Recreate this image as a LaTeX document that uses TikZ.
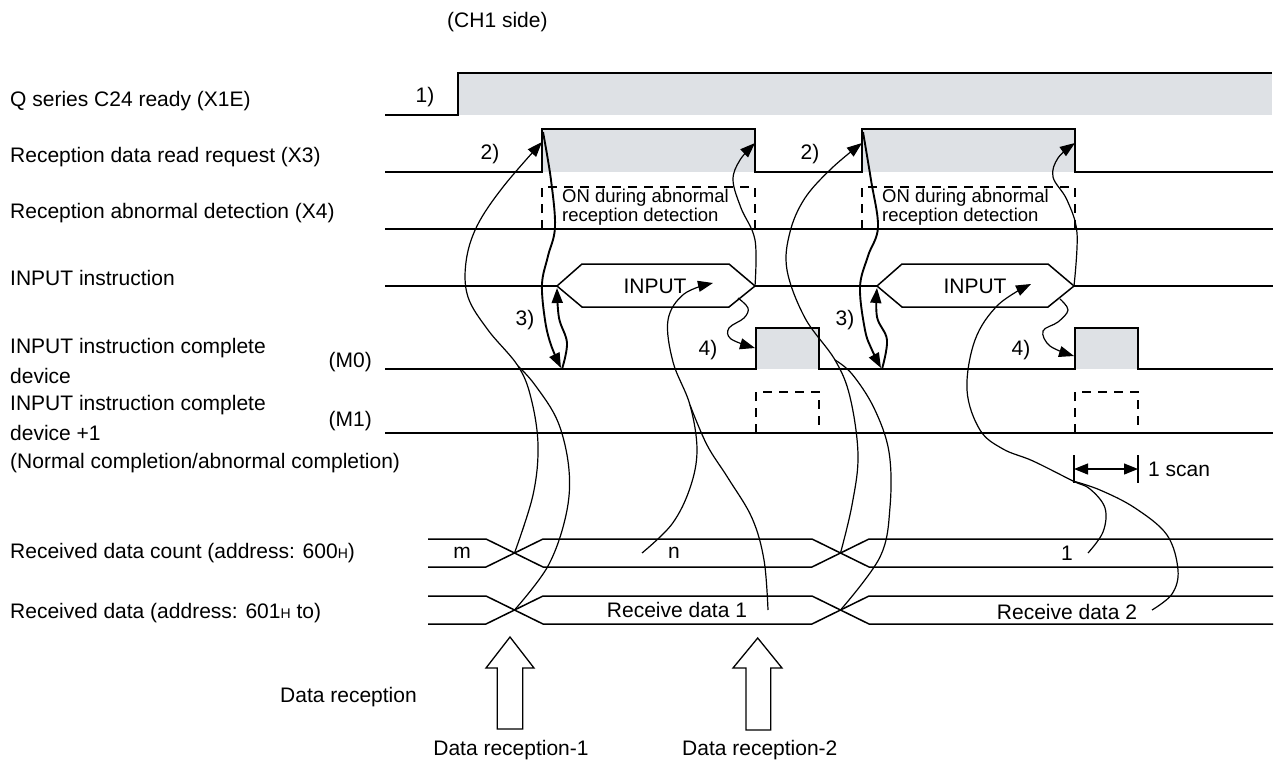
\documentclass[tikz,border=0pt]{standalone}
\usepackage{fontspec}
\setmainfont{Liberation Sans}
\usetikzlibrary{arrows.meta}
\definecolor{sgray}{HTML}{DEE1E5}
\newcommand{\smH}{{\fontsize{14}{14}\selectfont H}}
\begin{document}
\begin{tikzpicture}[x=1pt,y=-1pt,
  sig/.style={line width=1.5pt, line join=miter},
  lbl/.style={anchor=west, inner sep=0pt, font=\fontsize{21}{24}\selectfont},
  txt/.style={inner sep=0pt, font=\fontsize{21}{24}\selectfont},
  crv/.style={line width=1.2pt},
  thk/.style={line width=1.9pt},
  tip/.style={-{Triangle[length=15pt,width=11pt]}},
  dbox/.style={line width=1.3pt, dash pattern=on 9pt off 7pt},
  hollow/.style={line width=1.3pt, fill=white}]
\useasboundingbox (0,0) rectangle (1275,766);

% ---------- left labels ----------
\node[lbl] (ch1) at (447,22) {(CH1 side)};
\node[lbl] (l1) at (10,101) {Q series C24 ready (X1E)};
\node[lbl] (l2) at (10,157) {Reception data read request (X3)};
\node[lbl] (l3) at (10,213) {Reception abnormal detection (X4)};
\node[lbl] (l4) at (10,278) {INPUT instruction};
\node[lbl] (l5a) at (10,348) {INPUT instruction complete};
\node[lbl] (l5b) at (10,376) {device};
\node[txt, anchor=east] (m0) at (372,362) {(M0)};
\node[lbl] (l6a) at (10,405) {INPUT instruction complete};
\node[lbl] (l6b) at (10,433) {device +1};
\node[txt, anchor=east] (m1) at (372,421) {(M1)};
\node[lbl] (l6c) at (10,463) {(Normal completion/abnormal completion)};
\node[lbl] (l7) at (10,553) {Received data count (address: 600\smH)};
\node[lbl] (l8) at (10,613) {Received data (address: 601\smH{} to)};
\node[lbl] (l9) at (280,697) {Data reception};
\node[txt] (dr1) at (511,750) {Data reception-1};
\node[lbl] (dr2) at (682,750) {Data reception-2};

% ---------- X1E ----------
\fill[sgray] (458,73) rectangle (1272,115);
\draw[sig] (385,115) -- (458,115) -- (458,73) -- (1272,73);
\node[txt] (n1) at (425,97) {1)};

% ---------- X3 ----------
\fill[sgray] (542,129) rectangle (755,172);
\fill[sgray] (862,129) rectangle (1075,172);
\draw[sig] (385,172) -- (542,172) -- (542,129) -- (755,129) -- (755,172)
  -- (862,172) -- (862,129) -- (1075,129) -- (1075,172) -- (1273,172);
\node[txt] (n2a) at (490,154) {2)};
\node[txt] (n2b) at (810,154) {2)};

% ---------- X4 ----------
\draw[sig] (385,229) -- (1273,229);
\draw[dbox] (542,229) -- (542,187) -- (755,187) -- (755,229);
\draw[dbox] (862,229) -- (862,187) -- (1075,187) -- (1075,229);
\node[anchor=west, inner sep=0pt, align=left, font=\fontsize{18.5}{19.5}\selectfont]
  (on1) at (562,207) {ON during abnormal\\reception detection};
\node[anchor=west, inner sep=0pt, align=left, font=\fontsize{18.5}{19.5}\selectfont]
  (on2) at (882,207) {ON during abnormal\\reception detection};

% ---------- INPUT instruction ----------
\coordinate (h1l) at (557,286);
\coordinate (h1r) at (755,286);
\coordinate (h2l) at (877,286);
\coordinate (h2r) at (1074,286);
\draw[sig] (385,286) -- (h1l);
\draw[sig] (h1l) -- (582,264) -- (729,264) -- (h1r) -- (729,307) -- (582,307) -- cycle;
\draw[sig] (h1r) -- (h2l);
\draw[sig] (h2l) -- (902,264) -- (1048,264) -- (h2r) -- (1048,307) -- (902,307) -- cycle;
\draw[sig] (h2r) -- (1273,286);
\node[txt] (in1) at (655,286) {INPUT};
\node[txt] (in2) at (975,286) {INPUT};

% ---------- M0 ----------
\fill[sgray] (756,328) rectangle (819,369);
\fill[sgray] (1075,328) rectangle (1138,369);
\draw[sig] (385,369) -- (756,369) -- (756,328) -- (819,328) -- (819,369)
  -- (1075,369) -- (1075,328) -- (1138,328) -- (1138,369) -- (1273,369);
\node[txt] (n3a) at (525,320) {3)};
\node[txt] (n3b) at (845,320) {3)};
\node[txt] (n4a) at (708,350) {4)};
\node[txt] (n4b) at (1021,350) {4)};

% ---------- M1 ----------
\draw[sig] (385,433) -- (1273,433);
\draw[dbox] (756,433) -- (756,392) -- (819,392) -- (819,433);
\draw[dbox] (1075,433) -- (1075,392) -- (1138,392) -- (1138,433);

% ---------- 1 scan ----------
\coordinate (sc1) at (1074,469);
\coordinate (sc2) at (1138,469);
\draw[line width=1.3pt] (1074,455) -- (1074,483);
\draw[line width=1.3pt] (1138,455) -- (1138,483);
\draw[line width=1.2pt, {Triangle[length=14pt,width=11pt]}-{Triangle[length=14pt,width=11pt]}] (sc1) -- (sc2);
\node[lbl] (scan) at (1148,469) {1 scan};

% ---------- buses ----------
\draw[sig] (428,539) -- (486,539) -- (543,567) -- (812,567) -- (869,539) -- (1273,539);
\draw[sig] (428,567) -- (486,567) -- (543,539) -- (812,539) -- (869,567) -- (1273,567);
\draw[sig] (428,596) -- (486,596) -- (543,624) -- (812,624) -- (869,596) -- (1273,596);
\draw[sig] (428,624) -- (486,624) -- (543,596) -- (812,596) -- (869,624) -- (1273,624);
\coordinate (c1a) at (514.5,553);
\coordinate (c1b) at (514.5,610);
\coordinate (c2a) at (840.5,553);
\coordinate (c2b) at (840.5,610);
\node[txt] (vm) at (462,553) {m};
\node[txt] (vn) at (674,553) {n};
\node[txt] (v1) at (1067,553) {1};
\node[txt] (rd1) at (677,610) {Receive data 1};
\node[txt] (rd2) at (1067,612) {Receive data 2};

% ---------- hollow arrows ----------
\draw[hollow] (510,637) -- (534,668) -- (522.7,668) -- (522.7,729) -- (497.3,729)
  -- (497.3,668) -- (486,668) -- cycle;
\draw[hollow] (757.7,638) -- (782,668) -- (770.7,668) -- (770.7,730) -- (746,730)
  -- (746,668) -- (733,668) -- cycle;

% ---------- curves: set 1 ----------
\draw[crv, tip] plot[smooth, tension=0.6] coordinates {(c1a) (533,495) (538,445) (531,398) (518,366) (488,330) (468,297) (466,262) (477,226) (503,187) (542,142)};
\draw[crv] plot[smooth, tension=0.6] coordinates {(c1b) (548,566) (566,515) (569,470) (558,422) (535,385) (518,366)};
\draw[thk, tip] plot[smooth, tension=0.6] coordinates {(543,132) (551,180) (555,227) (548,256) (542,284) (545,320) (551,345) (561,368)};
\draw[thk, tip] plot[smooth, tension=0.6] coordinates {(562,369) (567,343) (559,318) (557,288)};
\draw[crv, tip] plot[smooth, tension=0.6] coordinates {(h1r) (755,240) (741,208) (733,180) (740,160) (755,143)};
\draw[crv, tip] plot[smooth, tension=0.6] coordinates {(738,298) (748,308) (744,318) (729,328) (731,339) (755,348)};
\draw[crv, tip] plot[smooth, tension=0.6] coordinates {(642,553) (672,524) (690,488) (697,450) (690,405) (673,362) (668,320) (684,294) (713,283)};
\draw[crv] plot[smooth, tension=0.6] coordinates {(768,610) (764,560) (752,518) (728,478) (707,445) (690,405)};

% ---------- curves: set 2 ----------
\draw[crv, tip] plot[smooth, tension=0.6] coordinates {(c2a) (852,505) (858,455) (850,397) (835,360) (805,318) (787,270) (790,232) (805,198) (832,168) (862,143)};
\draw[crv] plot[smooth, tension=0.6] coordinates {(c2b) (880,557) (890,507) (889,452) (874,408) (852,374) (835,360)};
\draw[thk, tip] plot[smooth, tension=0.6] coordinates {(863,132) (871,180) (878,227) (868,256) (860,287) (865,330) (872,350) (881,368)};
\draw[thk, tip] plot[smooth, tension=0.6] coordinates {(882,369) (887,340) (877,317) (877,288)};
\draw[crv, tip] plot[smooth, tension=0.6] coordinates {(h2r) (1077,233) (1067,200) (1053,177) (1058,158) (1075,143)};
\draw[crv, tip] plot[smooth, tension=0.6] coordinates {(1060,299) (1068,310) (1058,322) (1043,331) (1050,346) (1074,356)};
\draw[crv, tip] plot[smooth, tension=0.6] coordinates {(1088,553) (1103,532) (1105,508) (1090,489) (1073,481) (1033,461) (1003,449) (980,430) (967,390) (975,340) (998,305) (1031,284)};
\draw[crv] plot[smooth, tension=0.6] coordinates {(1152,610) (1172,594) (1178,570) (1167,535) (1135,508) (1100,490) (1073,481)};
\end{tikzpicture}
\end{document}
